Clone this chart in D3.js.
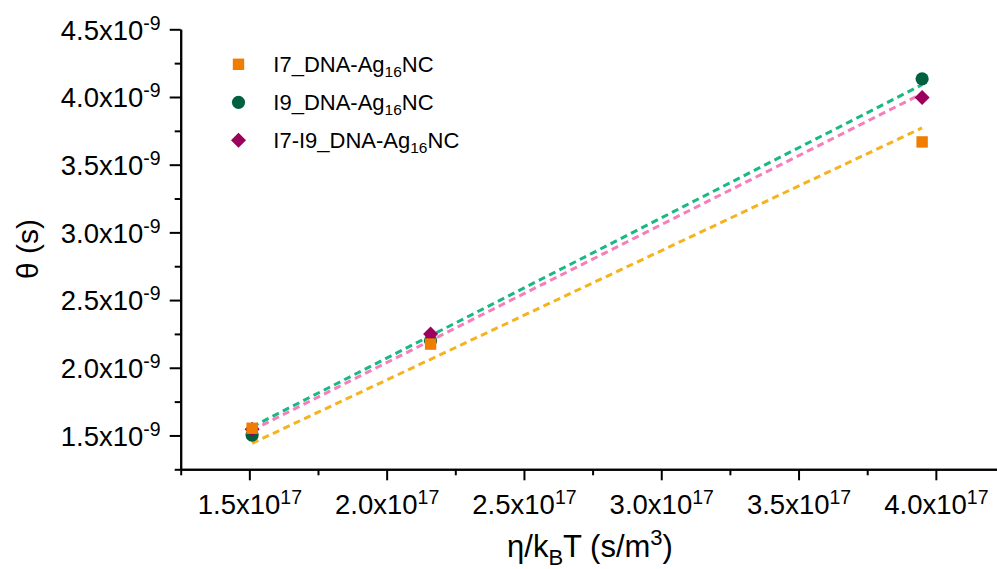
<!DOCTYPE html>
<html>
<head>
<meta charset="utf-8">
<script src="https://cdn.jsdelivr.net/npm/d3@7"></script>
<style>
  html, body { margin: 0; padding: 0; background: #fff; }
  svg { display: block; font-family: "Liberation Sans", Arial, sans-serif; }
</style>
</head>
<body>
<svg id="chart" width="997" height="569"></svg>
<script>
// Rotational correlation time vs viscosity / (kB T)
const xValues = [1.51e17, 2.16e17, 3.95e17];           // η/kBT (s/m³)
const thetaI7 = [1.553e-9, 2.175e-9, 3.668e-9];          // I7_DNA-Ag16NC
const thetaI9 = [1.503e-9, 2.200e-9, 4.134e-9];          // I9_DNA-Ag16NC
const thetaI7I9 = [1.545e-9, 2.249e-9, 3.996e-9];        // I7-I9_DNA-Ag16NC

const legendLabels = [
  ["I7_DNA-Ag", "16", "NC"],
  ["I9_DNA-Ag", "16", "NC"],
  ["I7-I9_DNA-Ag", "16", "NC"]
];

const xMajorTicks = [1.5e17, 2.0e17, 2.5e17, 3.0e17, 3.5e17, 4.0e17];
const xMinorTicks = [1.25e17, 1.75e17, 2.25e17, 2.75e17, 3.25e17, 3.75e17, 4.25e17];
const yMajorTicks = [1.5e-9, 2.0e-9, 2.5e-9, 3.0e-9, 3.5e-9, 4.0e-9, 4.5e-9];
const yMinorTicks = [1.25e-9, 1.75e-9, 2.25e-9, 2.75e-9, 3.25e-9, 3.75e-9, 4.25e-9];

const svg = d3.select("#chart");

const x = d3.scaleLinear().domain([1.25e17, 4.25e17]).range([180.7, 1004.5]);
const y = d3.scaleLinear().domain([1.25e-9, 4.5e-9]).range([469.3, 29.3]);

const series = [
  { values: thetaI7,   marker: "square",  fill: "#F07C00", line: "#F5B31F" },
  { values: thetaI9,   marker: "circle",  fill: "#00603F", line: "#19B884" },
  { values: thetaI7I9, marker: "diamond", fill: "#9C005C", line: "#F57EBB" }
];

// split a number into mantissa and power of ten
function sci(d) {
  const e = Math.floor(Math.log10(d) + 1e-9);
  const m = d / Math.pow(10, e);
  return [m.toFixed(1), String(e)];
}

function sciLabel(sel) {
  sel.each(function(d) {
    const [m, e] = sci(d);
    const t = d3.select(this).text(null);
    t.append("tspan").text(m + "x10");
    t.append("tspan").attr("dy", -10).attr("font-size", 19.5).text(e);
  });
}

// ---- axes ----
const axisStyle = g => {
  g.selectAll("path.domain").attr("stroke", "#000").attr("stroke-width", 2);
  g.selectAll(".tick line").attr("stroke", "#000").attr("stroke-width", 2);
};

// x minor
svg.append("g").attr("transform", "translate(0,469.3)")
  .call(d3.axisBottom(x).tickValues(xMinorTicks).tickSize(6).tickSizeOuter(0).tickFormat(""))
  .call(axisStyle);
// x major
const gx = svg.append("g").attr("transform", "translate(0,469.3)")
  .call(d3.axisBottom(x).tickValues(xMajorTicks).tickSize(11).tickSizeOuter(0).tickPadding(0))
  .call(axisStyle);
gx.selectAll(".tick text")
  .attr("y", 45).attr("dy", null)
  .attr("font-size", 27.5).attr("fill", "#000")
  .attr("font-family", "Liberation Sans, Arial, sans-serif")
  .call(sciLabel);

// y minor
svg.append("g").attr("transform", "translate(180.7,0)")
  .call(d3.axisLeft(y).tickValues(yMinorTicks).tickSize(6).tickSizeOuter(0).tickFormat(""))
  .call(axisStyle);
// y major
const gy = svg.append("g").attr("transform", "translate(180.7,0)")
  .call(d3.axisLeft(y).tickValues(yMajorTicks).tickSize(11).tickSizeOuter(0).tickPadding(9))
  .call(axisStyle);
gy.selectAll(".tick text")
  .attr("dy", "0.36em")
  .attr("font-size", 27.5).attr("fill", "#000")
  .attr("font-family", "Liberation Sans, Arial, sans-serif")
  .call(sciLabel);

// ---- axis titles ----
const xt = svg.append("text")
  .attr("x", 590).attr("y", 557)
  .attr("text-anchor", "middle")
  .attr("font-size", 31).attr("fill", "#000");
xt.append("tspan").text("η/k");
xt.append("tspan").attr("dy", 8).attr("font-size", 22).text("B");
xt.append("tspan").attr("dy", -8).text("T (s/m");
xt.append("tspan").attr("dy", -12).attr("font-size", 22).text("3");
xt.append("tspan").attr("dy", 12).text(")");

svg.append("text")
  .attr("transform", "translate(38,249) rotate(-90)")
  .attr("text-anchor", "middle")
  .attr("font-size", 30).attr("fill", "#000")
  .text("θ (s)");

// ---- fitted lines through the origin: θ = slope · η/kBT ----
const plot = svg.append("g");
[0, 2, 1].forEach(i => {
  const s = series[i];
  const sxy = d3.sum(xValues, (xv, k) => xv * s.values[k]);
  const sxx = d3.sum(xValues, xv => xv * xv);
  const slope = sxy / sxx;
  const x0 = xValues[0], x1 = xValues[xValues.length - 1];
  plot.append("line")
    .attr("x1", x(x0)).attr("y1", y(slope * x0))
    .attr("x2", x(x1)).attr("y2", y(slope * x1))
    .attr("stroke", s.line).attr("stroke-width", 3)
    .attr("stroke-dasharray", "7,4.5");
});

// ---- markers ----
function drawMarker(g, type, cx, cy, fill) {
  if (type === "square") {
    g.append("rect").attr("x", cx - 5.7).attr("y", cy - 5.7)
      .attr("width", 11.4).attr("height", 11.4).attr("fill", fill);
  } else if (type === "circle") {
    g.append("circle").attr("cx", cx).attr("cy", cy).attr("r", 6.6).attr("fill", fill);
  } else {
    const h = 7.5;
    g.append("polygon")
      .attr("points", [[cx, cy - h], [cx + h, cy], [cx, cy + h], [cx - h, cy]].map(p => p.join(",")).join(" "))
      .attr("fill", fill);
  }
}

// circles first, then diamonds, squares on top
[1, 2, 0].forEach(i => {
  const s = series[i];
  const g = plot.append("g");
  xValues.forEach((xv, k) => drawMarker(g, s.marker, x(xv), y(s.values[k]), s.fill));
});

// ---- legend ----
const legend = svg.append("g");
series.forEach((s, i) => {
  const ly = 64.3 + i * 38;
  drawMarker(legend, s.marker, 238.5, ly, s.fill);
  const t = legend.append("text")
    .attr("x", 273.3).attr("y", ly + 8)
    .attr("font-size", 22).attr("fill", "#000");
  const [pre, sub, post] = legendLabels[i];
  t.append("tspan").text(pre);
  t.append("tspan").attr("dy", 5).attr("font-size", 15.5).text(sub);
  t.append("tspan").attr("dy", -5).text(post);
});
</script>
</body>
</html>
